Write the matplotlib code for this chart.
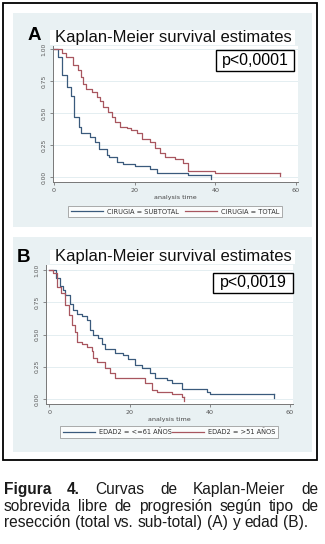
import numpy as np
import matplotlib
matplotlib.use("Agg")
import matplotlib.pyplot as plt
from matplotlib.patches import Rectangle

# ---- data ----
# panel A: tipo de reseccion
a_sub_t = [0, 1.0, 2.1, 3.1, 4.2, 5.0, 6.3, 6.6, 8.9, 10.2, 11.2, 13.1, 13.6, 15.5, 17.0, 20.2, 23.8, 25.5, 33.3, 39.0]
a_sub_s = [1, 0.935, 0.80, 0.705, 0.63, 0.47, 0.393, 0.34, 0.315, 0.276, 0.216, 0.17, 0.154, 0.12, 0.10, 0.085, 0.06, 0.034, 0.016, 0.016]
a_tot_t = [0, 1.9, 3.0, 4.8, 6.0, 6.8, 7.3, 8.0, 9.3, 10.6, 11.4, 12.2, 13.5, 14.3, 15.2, 16.4, 18.0, 19.2, 20.5, 21.7,
           23.8, 25.0, 26.3, 27.6, 30.0, 32.0, 33.3, 40.0, 56.0]
a_tot_s = [1, 0.97, 0.94, 0.875, 0.835, 0.78, 0.73, 0.69, 0.66, 0.627, 0.59, 0.55, 0.51, 0.47, 0.43, 0.39, 0.38, 0.365, 0.34, 0.30,
           0.276, 0.224, 0.19, 0.16, 0.14, 0.107, 0.05, 0.034, 0.034]
# panel B: edad
b_young_t = [0, 1.6, 2.6, 3.4, 3.9, 5.1, 5.9, 6.8, 8.0, 9.3, 10.1, 10.9, 12.2, 13.0, 13.8, 16.3, 18.4, 19.6, 21.3, 23.0,
             25.0, 26.3, 29.2, 30.5, 33.0, 39.2, 40.0, 56.0]
b_young_s = [1, 0.94, 0.88, 0.845, 0.806, 0.74, 0.69, 0.66, 0.64, 0.61, 0.535, 0.496, 0.47, 0.43, 0.39, 0.355, 0.34, 0.31, 0.264, 0.24,
             0.20, 0.16, 0.15, 0.12, 0.075, 0.057, 0.04, 0.04]
b_old_t = [0, 1.0, 1.8, 2.8, 3.9, 4.9, 5.5, 6.4, 6.8, 8.0, 9.3, 10.5, 10.9, 11.8, 13.8, 15.0, 16.3, 23.8, 25.5, 26.8, 30.5, 33.0, 33.5]
b_old_s = [1, 0.975, 0.87, 0.82, 0.73, 0.65, 0.57, 0.52, 0.44, 0.43, 0.405, 0.37, 0.315, 0.29, 0.24, 0.20, 0.16, 0.12, 0.07, 0.055, 0.04, 0.015, 0.015]

y_ticks = [0, 0.25, 0.5, 0.75, 1.0]
y_labels = ["0.00", "0.25", "0.50", "0.75", "1.00"]
x_ticks = [0, 20, 40, 60]

title = "Kaplan-Meier survival estimates"
legend_a = ["CIRUGIA = SUBTOTAL", "CIRUGIA = TOTAL"]
legend_b = ["EDAD2 = <=61 AÑOS", "EDAD2 = >51 AÑOS"]
pvals = ["p<0,0001", "p<0,0019"]

caption = [
    ["Figura", "4.", "Curvas", "de", "Kaplan-Meier", "de"],
    ["sobrevida", "libre", "de", "progresión", "según", "tipo", "de"],
    ["resección", "(total", "vs.", "sub-total)", "(A)", "y", "edad", "(B)."],
]

W, H = 325, 544
BLUE = "#3a5a7c"
RED = "#a8565f"
BG = "#e9f1f3"
SANS = "Liberation Sans"

fig = plt.figure(figsize=(W / 100, H / 100), dpi=100)
fig.patch.set_facecolor("white")


def fbox(x0, y0, x1, y1):
    return [x0 / W, 1 - y1 / H, (x1 - x0) / W, (y1 - y0) / H]


def frect(x0, y0, x1, y1, **kw):
    b = fbox(x0, y0, x1, y1)
    fig.add_artist(Rectangle((b[0], b[1]), b[2], b[3], transform=fig.transFigure, **kw))


# outer frame and panel backgrounds
frect(3, 3, 317, 460, facecolor="none", edgecolor="black", lw=1.3, zorder=5)
frect(13, 13, 312, 227, facecolor=BG, edgecolor="none", zorder=0)
frect(13, 237, 312, 452, facecolor=BG, edgecolor="none", zorder=0)


def km_panel(pos, xlim, ylim, curves, colors, labels, leg_box, title_box, letter_xy, letter, pbox, ptext):
    ax = fig.add_axes(fbox(*pos))
    ax.set_facecolor("white")
    for (t, s), c in zip(curves, colors):
        ax.step(t, s, where="post", color=c, lw=0.9)
        ax.plot([t[-1], t[-1]], [s[-1], s[-1] - 0.03], color=c, lw=0.9)
    ax.set_xlim(*xlim)
    ax.set_ylim(*ylim)
    ax.set_yticks(y_ticks)
    ax.set_yticklabels(y_labels, rotation=90, va="center", fontsize=4.3, color="#555")
    ax.set_xticks(x_ticks)
    ax.set_xticklabels([str(v) for v in x_ticks], fontsize=4.6, color="#555")
    ax.tick_params(length=2.5, width=0.6, color="#777", pad=2)
    ax.grid(axis="y", color="#e4eef1", lw=0.7)
    ax.set_axisbelow(True)
    for sp in ["top", "right"]:
        ax.spines[sp].set_visible(False)
    for sp in ["left", "bottom"]:
        ax.spines[sp].set_color("#777")
        ax.spines[sp].set_linewidth(0.7)
    ax.set_xlabel("analysis time", fontsize=4.6, color="#444", labelpad=1.5)

    # title strip
    frect(*title_box, facecolor="white", edgecolor="none", zorder=1)
    fig.text((title_box[0] + 5) / W, 1 - (title_box[1] + title_box[3]) / 2 / H, title,
             fontsize=12, family=SANS, color="#111", va="center", ha="left")
    fig.text(letter_xy[0] / W, 1 - letter_xy[1] / H, letter, fontsize=13.5, family=SANS,
             weight="bold", va="baseline", ha="left")
    # p value box
    frect(*pbox, facecolor="white", edgecolor="black", lw=1.0, zorder=3)
    fig.text((pbox[0] + pbox[2]) / 2 / W, 1 - (pbox[1] + pbox[3]) / 2 / H, ptext,
             fontsize=11.5, family=SANS, va="center", ha="center", zorder=4)

    # legend
    b = fbox(*leg_box)
    handles = [plt.Line2D([], [], color=c, lw=0.9) for c in colors]
    leg = fig.legend(handles, labels, loc="center", bbox_to_anchor=(b[0], b[1], b[2], b[3]),
                     mode="expand", ncol=2, fontsize=4.8, frameon=True, fancybox=False,
                     handlelength=4.8, handletextpad=0.6, borderpad=0.4, borderaxespad=0)
    leg.get_frame().set_edgecolor("#888")
    leg.get_frame().set_linewidth(0.6)
    for t in leg.get_texts():
        t.set_color("#333")
    return ax


km_panel((53, 46, 298, 182), (-0.25, 60.5), (-0.039, 1.023),
         [(a_sub_t, a_sub_s), (a_tot_t, a_tot_s)], [BLUE, RED], legend_a,
         (68, 205, 282, 218), (50, 30, 295, 45), (28, 40), "A", (216, 50, 294, 71), pvals[0])
km_panel((46, 265, 293, 404), (-0.87, 60.75), (-0.039, 1.039),
         [(b_young_t, b_young_s), (b_old_t, b_old_s)], [BLUE, RED], legend_b,
         (60, 424, 278, 440), (50, 250, 295, 264), (17, 262), "B", (213, 273, 293, 293), pvals[1])

# justified caption
CAP_FS = 11.2
renderer = fig.canvas.get_renderer()
base_y = [494, 511, 527]
for i, words in enumerate(caption):
    texts = []
    for j, w in enumerate(words):
        bold = (i == 0 and j < 2)
        texts.append(fig.text(0, 1 - base_y[i] / H, w, fontsize=CAP_FS, family=SANS,
                              weight="bold" if bold else "normal", color="#1a1a1a", va="baseline"))
    widths = [t.get_window_extent(renderer).width for t in texts]
    if i < len(caption) - 1:
        gap = (318 - 4 - sum(widths)) / (len(words) - 1)
    else:
        gap = renderer.points_to_pixels(CAP_FS) * 0.28
    x = 4
    for t, w in zip(texts, widths):
        t.set_x(x / W)
        x += w + gap

fig.savefig("out.png", dpi=100)
